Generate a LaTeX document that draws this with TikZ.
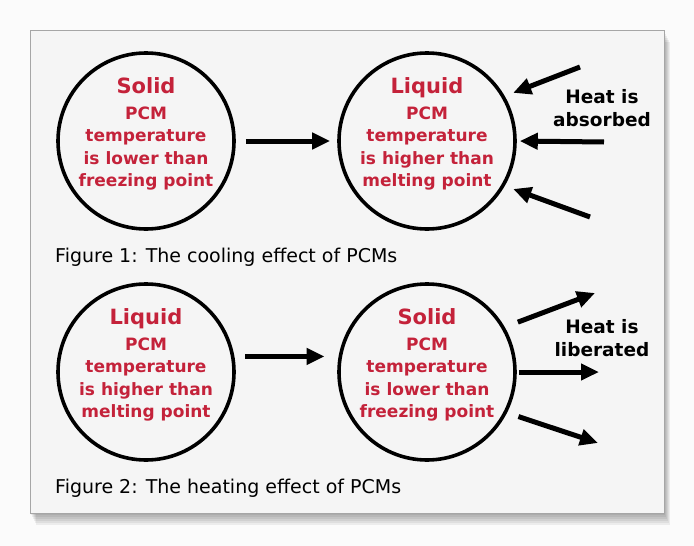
\documentclass[tikz,border=0pt]{standalone}
\usepackage{fontspec}
\setmainfont{DejaVu Sans}
\usetikzlibrary{arrows.meta}

\definecolor{pcmred}{RGB}{196,34,58}
\definecolor{panelgray}{RGB}{245,245,245}
\definecolor{pagegray}{RGB}{251,251,251}

\begin{document}
\begin{tikzpicture}[
    x=1pt, y=-1pt,
    phase/.style={circle, draw, line width=3.6pt, minimum size=176pt, inner sep=0pt},
    phasetext/.style={align=center, text=pcmred, font=\bfseries\fontsize{17}{22.5}\selectfont},
    flowarrow/.style={line width=5pt, -{Triangle[length=18pt,width=16pt]}},
    heatlabel/.style={align=center, font=\bfseries\fontsize{18.5}{23}\selectfont},
    caption/.style={anchor=base west, inner sep=0pt, font=\fontsize{19}{22}\selectfont}
]

% ---------- Parameters ----------
\def\xl{146}
\def\xr{427}
\def\ytop{141}
\def\ybot{372}
\def\txtup{7pt}

\useasboundingbox (0,0) rectangle (694,546);
\fill[pagegray] (0,0) rectangle (694,546);

% ---------- Panel with shadow ----------
\foreach \s in {2,4,6,8,10,12}
    \fill[black, opacity=0.06] ({30+\s*0.5},{30+\s}) rectangle ({664+\s*0.5},{513+\s});
\fill[panelgray, draw=gray!70, line width=0.6pt] (30,30) rectangle (664,513);

% ---------- Figure 1: cooling ----------
\node[phase] (solidA) at (\xl,\ytop) {};
\node[phasetext] (solidAtext) at ([yshift=\txtup]solidA.center)
    {{\fontsize{21}{24}\selectfont Solid}\\[3pt] PCM\\ temperature\\ is lower than\\ freezing point};

\node[phase] (liqA) at (\xr,\ytop) {};
\node[phasetext] (liqAtext) at ([yshift=\txtup]liqA.center)
    {{\fontsize{21}{24}\selectfont Liquid}\\[3pt] PCM\\ temperature\\ is higher than\\ melting point};

\draw[flowarrow, shorten <=10pt, shorten >=7pt] (solidA) -- (liqA);

\coordinate (inA1) at (580,67);
\coordinate (inA2) at (604,142);
\coordinate (inA3) at (590,217);
\draw[flowarrow, shorten >=9pt] (inA1) -- (liqA.30);
\draw[flowarrow, shorten >=3pt] (inA2) -- (liqA.0);
\draw[flowarrow, shorten >=9pt] (inA3) -- (liqA.-30);

\node[heatlabel] (absorbA) at (602,108) {Heat is\\ absorbed};

\node[caption] (capA) at (55,262) {Figure 1: The cooling effect of PCMs};

% ---------- Figure 2: heating ----------
\node[phase] (liqB) at (\xl,\ybot) {};
\node[phasetext] (liqBtext) at ([yshift=\txtup]liqB.center)
    {{\fontsize{21}{24}\selectfont Liquid}\\[3pt] PCM\\ temperature\\ is higher than\\ melting point};

\node[phase] (solidB) at (\xr,\ybot) {};
\node[phasetext] (solidBtext) at ([yshift=\txtup]solidB.center)
    {{\fontsize{21}{24}\selectfont Solid}\\[3pt] PCM\\ temperature\\ is lower than\\ freezing point};

\draw[flowarrow, shorten <=11pt, shorten >=14pt] (liqB.10) -- (solidB.170);

\coordinate (outB1) at (595,293);
\coordinate (outB2) at (599,372);
\coordinate (outB3) at (598,443);
\draw[flowarrow, shorten <=14pt] (solidB.30) -- (outB1);
\draw[flowarrow, shorten <=2pt] (solidB.0) -- (outB2);
\draw[flowarrow, shorten <=12pt] (solidB.-27) -- (outB3);

\node[heatlabel] (liberB) at (602,338) {Heat is\\ liberated};

\node[caption] (capB) at (55,493) {Figure 2: The heating effect of PCMs};

\end{tikzpicture}
\end{document}
